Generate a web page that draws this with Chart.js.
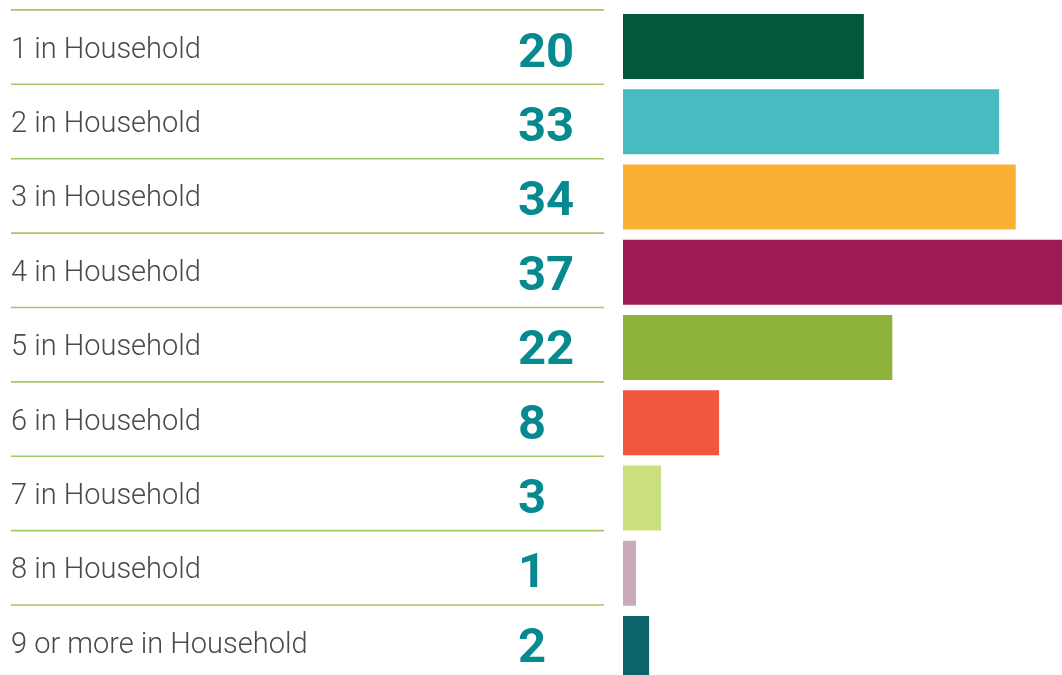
<!DOCTYPE html>
<html>
<head>
<meta charset="utf-8">
<script src="https://cdn.jsdelivr.net/npm/chart.js@4"></script>
<style>
html,body{margin:0;padding:0;background:#fff;overflow:hidden;}
#wrap{position:relative;width:1062px;height:690px;}
</style>
</head>
<body>
<div id="wrap"><canvas id="c"></canvas></div>
<script>
const categories = ["1 in Household","2 in Household","3 in Household","4 in Household","5 in Household","6 in Household","7 in Household","8 in Household","9 or more in Household"];
const countLabels = ["20","33","34","37","22","8","3","1","2"];
const barValues = [20.3, 31.7, 33.1, 37, 22.7, 8.1, 3.2, 1.1, 2.2];
const barColors = ["#02573d","#48bbc1","#fbb034","#9d1c53","#8db33d","#f1573c","#cadf7e","#caa9bb","#0d636b"];

const rowPlugin = {
  id: 'rows',
  afterDraw(chart) {
    const ctx = chart.ctx;
    const y = chart.scales.y;
    const band = y.getPixelForValue(1) - y.getPixelForValue(0);
    const pitch = band * 0.9887;
    const start = y.getPixelForValue(0) - band / 2 + 1;
    ctx.save();
    categories.forEach((cat, i) => {
      const top = start + i * pitch;
      const cy = top + pitch / 2;
      ctx.strokeStyle = '#a2c763';
      ctx.lineWidth = 1.6;
      ctx.beginPath();
      ctx.moveTo(11, top);
      ctx.lineTo(604, top);
      ctx.stroke();
      ctx.fillStyle = '#4a4a4a';
      ctx.font = '300 29px Roboto';
      ctx.textAlign = 'left';
      ctx.textBaseline = 'alphabetic';
      ctx.fillText(cat, 11, cy + 10.5);
      ctx.fillStyle = '#078a8f';
      ctx.font = 'bold 49px Roboto';
      ctx.fillText(countLabels[i], 518, cy + 19.5);
    });
    ctx.restore();
  }
};

new Chart(document.getElementById('c'), {
  type: 'bar',
  data: {
    labels: categories,
    datasets: [{
      data: barValues,
      backgroundColor: barColors,
      borderWidth: 0,
      barPercentage: 0.864,
      categoryPercentage: 1
    }]
  },
  options: {
    indexAxis: 'y',
    responsive: true,
    maintainAspectRatio: false,
    animation: false,
    layout: { padding: { left: 623, right: 0, top: 8.9, bottom: 3.9 } },
    plugins: { legend: { display: false }, tooltip: { enabled: false } },
    scales: {
      x: { display: false, min: 0, max: 37 },
      y: { display: false }
    }
  },
  plugins: [rowPlugin]
});
</script>
</body>
</html>
